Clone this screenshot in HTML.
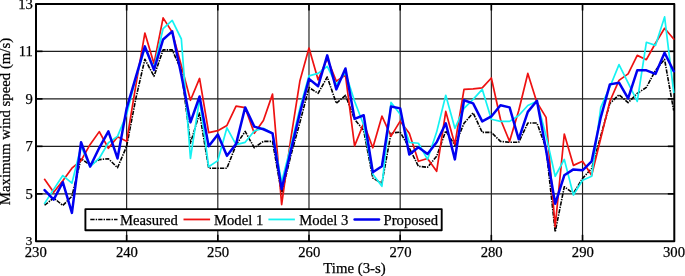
<!DOCTYPE html>
<html><head><meta charset="utf-8"><style>html,body{margin:0;padding:0;background:#fff;overflow:hidden}svg{display:block}</style></head>
<body><svg width="685" height="276" viewBox="0 0 685 276">
<rect width="685" height="276" fill="#fff"/>
<g stroke="#1e1e1e" stroke-width="1.15"><line x1="126.63" y1="4.0" x2="126.63" y2="241.35" /><line x1="217.81" y1="4.0" x2="217.81" y2="241.35" /><line x1="308.99" y1="4.0" x2="308.99" y2="241.35" /><line x1="400.17" y1="4.0" x2="400.17" y2="241.35" /><line x1="491.35" y1="4.0" x2="491.35" y2="241.35" /><line x1="582.53" y1="4.0" x2="582.53" y2="241.35" /><line x1="36.0" y1="193.85" x2="674.3" y2="193.85" /><line x1="36.0" y1="146.35" x2="674.3" y2="146.35" /><line x1="36.0" y1="98.85" x2="674.3" y2="98.85" /><line x1="36.0" y1="51.35" x2="674.3" y2="51.35" /></g>
<g stroke="#000" stroke-width="1.6"><line x1="126.63" y1="4.0" x2="126.63" y2="10.5" /><line x1="126.63" y1="234.85" x2="126.63" y2="241.35" /><line x1="217.81" y1="4.0" x2="217.81" y2="10.5" /><line x1="217.81" y1="234.85" x2="217.81" y2="241.35" /><line x1="308.99" y1="4.0" x2="308.99" y2="10.5" /><line x1="308.99" y1="234.85" x2="308.99" y2="241.35" /><line x1="400.17" y1="4.0" x2="400.17" y2="10.5" /><line x1="400.17" y1="234.85" x2="400.17" y2="241.35" /><line x1="491.35" y1="4.0" x2="491.35" y2="10.5" /><line x1="491.35" y1="234.85" x2="491.35" y2="241.35" /><line x1="582.53" y1="4.0" x2="582.53" y2="10.5" /><line x1="582.53" y1="234.85" x2="582.53" y2="241.35" /><line x1="36.0" y1="193.85" x2="42.5" y2="193.85" /><line x1="667.8" y1="193.85" x2="674.3" y2="193.85" /><line x1="36.0" y1="146.35" x2="42.5" y2="146.35" /><line x1="667.8" y1="146.35" x2="674.3" y2="146.35" /><line x1="36.0" y1="98.85" x2="42.5" y2="98.85" /><line x1="667.8" y1="98.85" x2="674.3" y2="98.85" /><line x1="36.0" y1="51.35" x2="42.5" y2="51.35" /><line x1="667.8" y1="51.35" x2="674.3" y2="51.35" /></g>
<rect x="36.0" y="4.0" width="638.3" height="237.35" fill="none" stroke="#000" stroke-width="2" stroke-linejoin="round"/>
<g><polyline points="44.57,205.25 53.69,197.89 62.80,205.49 71.92,196.22 81.04,158.70 90.16,164.88 99.28,159.65 108.39,158.70 117.51,167.72 126.63,146.35 135.75,98.85 144.87,59.19 153.98,76.29 163.10,49.92 172.22,49.92 181.34,70.35 190.46,143.26 199.57,113.10 208.69,168.20 217.81,168.20 226.93,168.20 236.05,144.93 245.16,131.39 254.28,147.77 263.40,141.36 272.52,141.36 281.64,193.85 290.75,155.85 299.87,122.60 308.99,87.45 318.11,93.39 327.23,77.00 336.34,103.36 345.46,95.29 354.58,119.27 363.70,130.44 372.82,178.17 381.93,183.16 391.05,133.05 400.17,132.10 409.29,148.01 418.41,166.30 427.52,167.25 436.64,156.32 445.76,130.91 454.88,145.40 464.00,123.31 473.11,112.86 482.23,132.34 491.35,132.34 500.47,141.36 509.59,142.31 518.70,142.31 527.82,123.07 536.94,123.07 546.06,148.01 555.18,231.85 564.29,186.72 573.41,193.38 582.53,178.41 591.65,168.44 600.77,135.90 609.88,103.36 619.00,94.81 628.12,102.65 637.24,93.39 646.36,87.45 655.47,70.35 664.59,59.42 673.71,110.72" fill="none" stroke="#000" stroke-width="1.6" stroke-linejoin="round" stroke-dasharray="4.3 1.1 1.4 1.1" stroke-linecap="butt"/><polyline points="44.57,179.36 53.69,192.19 62.80,180.79 71.92,168.20 81.04,160.60 90.16,144.45 99.28,131.62 108.39,148.25 117.51,136.85 126.63,141.36 135.75,85.79 144.87,33.06 153.98,63.70 163.10,17.86 172.22,32.11 181.34,65.60 190.46,100.28 199.57,78.43 208.69,132.57 217.81,130.68 226.93,125.45 236.05,106.21 245.16,107.64 254.28,133.29 263.40,120.46 272.52,94.10 281.64,204.54 290.75,139.22 299.87,81.04 308.99,48.02 318.11,79.85 327.23,58.48 336.34,81.27 345.46,75.10 354.58,145.88 363.70,123.31 372.82,147.77 381.93,116.19 391.05,136.14 400.17,121.17 409.29,133.29 418.41,161.31 427.52,158.46 436.64,171.29 445.76,111.44 454.88,144.45 464.00,89.35 473.11,88.88 482.23,87.92 491.35,77.95 500.47,119.27 509.59,141.36 518.70,110.72 527.82,73.44 536.94,102.41 546.06,117.37 555.18,226.62 564.29,134.00 573.41,165.35 582.53,161.31 591.65,175.32 600.77,138.28 609.88,101.22 619.00,80.33 628.12,73.91 637.24,55.39 646.36,59.66 655.47,43.28 664.59,28.31 673.71,39.00" fill="none" stroke="#ee1111" stroke-width="1.7" stroke-linejoin="round" stroke-linecap="round"/><polyline points="44.57,203.35 53.69,189.34 62.80,175.56 71.92,183.16 81.04,146.35 90.16,166.54 99.28,158.22 108.39,142.79 117.51,136.38 126.63,114.29 135.75,78.66 144.87,47.79 153.98,67.97 163.10,28.55 172.22,20.47 181.34,39.00 190.46,158.46 199.57,98.85 208.69,166.78 217.81,160.60 226.93,127.82 236.05,144.69 245.16,142.31 254.28,130.91 263.40,128.30 272.52,133.29 281.64,181.97 290.75,146.35 299.87,108.35 308.99,75.81 318.11,73.44 327.23,66.31 336.34,84.60 345.46,72.73 354.58,101.22 363.70,124.97 372.82,174.14 381.93,186.25 391.05,102.41 400.17,114.29 409.29,142.31 418.41,143.26 427.52,159.41 436.64,132.10 445.76,95.29 454.88,128.30 464.00,108.35 473.11,99.32 482.23,89.35 491.35,119.27 500.47,121.41 509.59,121.41 518.70,115.47 527.82,105.50 536.94,101.22 546.06,135.66 555.18,176.27 564.29,159.41 573.41,195.04 582.53,180.31 591.65,176.27 600.77,107.40 609.88,86.97 619.00,64.65 628.12,82.94 637.24,101.46 646.36,42.32 655.47,45.41 664.59,16.91 673.71,92.44" fill="none" stroke="#14f2f2" stroke-width="1.7" stroke-linejoin="round" stroke-linecap="round"/><polyline points="44.57,190.05 53.69,199.55 62.80,182.21 71.92,212.85 81.04,142.31 90.16,166.54 99.28,147.77 108.39,131.39 117.51,158.46 126.63,108.35 135.75,77.47 144.87,46.36 153.98,69.87 163.10,39.48 172.22,31.40 181.34,75.10 190.46,122.36 199.57,96.48 208.69,146.35 217.81,134.47 226.93,155.85 236.05,143.97 245.16,107.40 254.28,126.64 263.40,129.25 272.52,133.29 281.64,189.10 290.75,151.10 299.87,113.10 308.99,78.90 318.11,86.26 327.23,55.39 336.34,89.35 345.46,68.45 354.58,118.80 363.70,115.24 372.82,172.24 381.93,166.30 391.05,106.45 400.17,108.35 409.29,154.42 418.41,147.30 427.52,153.95 436.64,142.31 445.76,123.31 454.88,159.41 464.00,100.28 473.11,103.36 482.23,121.41 491.35,116.42 500.47,105.26 509.59,107.40 518.70,139.22 527.82,111.91 536.94,100.75 546.06,149.91 555.18,203.82 564.29,175.32 573.41,169.39 582.53,170.34 591.65,161.31 600.77,117.37 609.88,84.36 619.00,82.70 628.12,98.38 637.24,70.35 646.36,70.35 655.47,73.91 664.59,52.78 673.71,71.30" fill="none" stroke="#0000f0" stroke-width="2.5" stroke-linejoin="round" stroke-linecap="round"/></g>
<rect x="85.4" y="209.1" width="356.30" height="21.10" fill="#fff" stroke="#000" stroke-width="1.9" stroke-linejoin="round"/><line x1="90.3" y1="219.45" x2="117.5" y2="219.45" stroke="#000" stroke-width="1.6" stroke-dasharray="4.3 1.1 1.4 1.1"/><text x="120" y="225.35" font-family="Liberation Serif, serif" font-size="14.65" stroke="#000" stroke-width="0.25">Measured</text><line x1="183.5" y1="219.45" x2="210.1" y2="219.45" stroke="#ee1111" stroke-width="1.8" /><text x="214" y="225.35" font-family="Liberation Serif, serif" font-size="14.65" stroke="#000" stroke-width="0.25">Model 1</text><line x1="268.4" y1="219.45" x2="294.9" y2="219.45" stroke="#14f2f2" stroke-width="1.8" /><text x="299.2" y="225.35" font-family="Liberation Serif, serif" font-size="14.65" stroke="#000" stroke-width="0.25">Model 3</text><line x1="354.6" y1="219.45" x2="379.0" y2="219.45" stroke="#0000f0" stroke-width="2.5" stroke-linecap="round"/><text x="383.6" y="225.35" font-family="Liberation Serif, serif" font-size="14.65" stroke="#000" stroke-width="0.25">Proposed</text>
<g font-family="Liberation Serif, serif" font-size="14.65" fill="#000" stroke="#000" stroke-width="0.25"><text x="35.75" y="257" text-anchor="middle" font-size="14.7">230</text><text x="126.93" y="257" text-anchor="middle" font-size="14.7">240</text><text x="218.11" y="257" text-anchor="middle" font-size="14.7">250</text><text x="309.29" y="257" text-anchor="middle" font-size="14.7">260</text><text x="400.47" y="257" text-anchor="middle" font-size="14.7">270</text><text x="491.65" y="257" text-anchor="middle" font-size="14.7">280</text><text x="582.83" y="257" text-anchor="middle" font-size="14.7">290</text><text x="674.01" y="257" text-anchor="middle" font-size="14.7">300</text><text x="32.8" y="198.95" text-anchor="end">5</text><text x="32.8" y="151.45" text-anchor="end">7</text><text x="32.8" y="103.95" text-anchor="end">9</text><text x="32.8" y="56.45" text-anchor="end">11</text><text x="32.8" y="8.95" text-anchor="end">13</text><text x="32.4" y="245.2" text-anchor="end" font-size="13.2">3</text><text x="354.5" y="272.5" text-anchor="middle" font-size="14.8">Time (3-s)</text><text transform="translate(10.3,121.5) rotate(-90)" text-anchor="middle" font-size="14.8">Maximum wind speed (m/s)</text></g>
</svg></body></html>
